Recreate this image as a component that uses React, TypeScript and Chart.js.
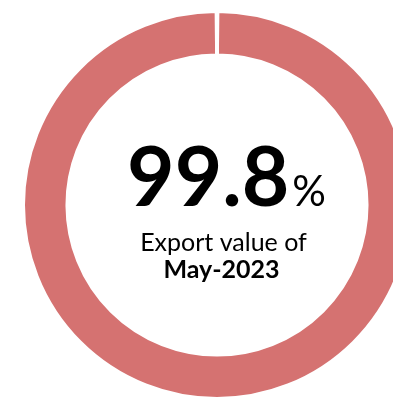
import React, { useEffect, useRef } from "react";
import { Chart, registerables } from "chart.js";

Chart.register(...registerables);

const labels = ["Export value", "Remaining"];
const values = [99.8, 0.2];
const colors = ["#d57271", "#ffffff"];
const mainValue = "99.8";
const unit = "%";
const subtitle = "Export value of";
const period = "May-2023";

const FONT = "Lato, 'Open Sans', sans-serif";

const centerText = {
  id: "centerText",
  afterDraw(chart: any) {
    const ctx = chart.ctx;
    const meta = chart.getDatasetMeta(0);
    const arc = meta.data[0];
    if (!arc) return;
    const cx = arc.x;
    const cy = arc.y;
    ctx.save();
    ctx.fillStyle = "#000000";
    ctx.textBaseline = "alphabetic";
    ctx.textAlign = "left";
    ctx.font = `bold 82px ${FONT}`;
    const w1 = ctx.measureText(mainValue).width;
    ctx.font = `42px ${FONT}`;
    const w2 = ctx.measureText(unit).width;
    const start = cx + 9.5 - (w1 + w2 + 3) / 2;
    ctx.font = `bold 82px ${FONT}`;
    ctx.fillText(mainValue, start, cy + 1);
    ctx.font = `42px ${FONT}`;
    ctx.fillText(unit, start + w1 + 3, cy + 1);
    ctx.textAlign = "center";
    ctx.font = `25px ${FONT}`;
    ctx.fillText(subtitle, cx + 6.5, cy + 46);
    ctx.font = `bold 25px ${FONT}`;
    ctx.fillText(period, cx + 4.5, cy + 73);
    ctx.restore();
  },
};

export default function App() {
  const ref = useRef<HTMLCanvasElement | null>(null);
  useEffect(() => {
    document.body.style.overflow = "hidden";
    if (!ref.current) return;
    const chart = new Chart(ref.current, {
      type: "doughnut",
      data: {
        labels,
        datasets: [
          {
            data: values,
            backgroundColor: colors,
            borderColor: "#ffffff",
            borderWidth: 2,
          },
        ],
      },
      options: {
        animation: false,
        responsive: true,
        maintainAspectRatio: false,
        cutout: "78%",
        rotation: 0.36,
        plugins: {
          legend: { display: false },
          tooltip: { enabled: false },
        },
      },
      plugins: [centerText],
    });
    return () => chart.destroy();
  }, []);
  return (
    <div
      style={{
        position: "fixed",
        left: 0,
        top: 0,
        width: 393,
        height: 399,
        overflow: "hidden",
        background: "#ffffff",
      }}
    >
      <div style={{ position: "absolute", left: 23, top: 11, width: 388, height: 388 }}>
        <canvas ref={ref} />
      </div>
    </div>
  );
}
